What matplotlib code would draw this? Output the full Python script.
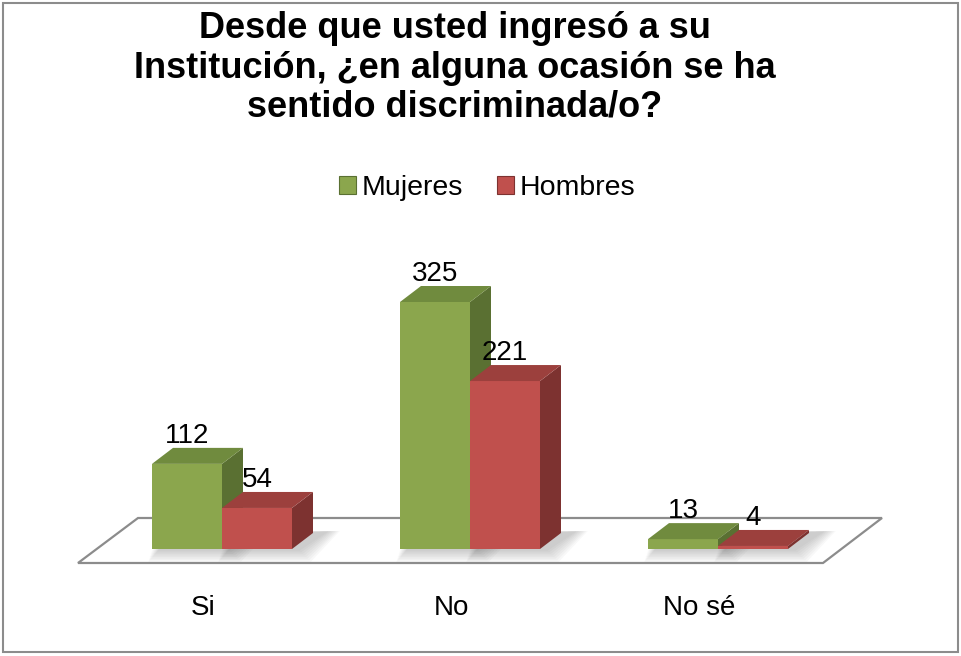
import matplotlib.pyplot as plt
from matplotlib.patches import Polygon, Rectangle, Patch
import numpy as np

plt.rcParams['font.family'] = ['Liberation Sans', 'DejaVu Sans']

categorias = ['Si', 'No', 'No sé']
mujeres = [112, 325, 13]
hombres = [54, 221, 4]
series = ['Mujeres', 'Hombres']
titulo = 'Desde que usted ingresó a su\nInstitución, ¿en alguna ocasión se ha\nsentido discriminada/o?'

# colores: frente, tapa, lateral
col_m = ('#8ba64d', '#708b3e', '#5a7032')
col_h = ('#c0504d', '#9c403d', '#7d3230')

W, H = 961, 656
fig = plt.figure(figsize=(W / 100, H / 100), dpi=100)
ax = fig.add_axes([0, 0, 1, 1])

# escala: 1 categoria = 248 px, 1 unidad = 0.76 px, base en y=549 px, x=222 px
sx, sy = 248.0, 0.76
ax.set_xlim(-222 / sx, (W - 222) / sx)
ax.set_ylim(-(H - 549) / sy, 549 / sy)
ax.axis('off')

bw = 70 / sx          # ancho de barra
ddx = 21 / sx         # profundidad en x
ddy = 16 / sy         # profundidad en y

# piso
piso = Polygon([(-144 / sx, -14 / sy), (601 / sx, -14 / sy),
                (660 / sx, 31 / sy), (-84 / sx, 31 / sy)],
               closed=True, facecolor='white', edgecolor='#8c8c8c', lw=1.6, zorder=1)
ax.add_patch(piso)


def sombra(x0, v):
    # sombra difusa sobre el piso
    for k in range(8):
        e = (k + 1) * 1.6
        pts = [(x0 - e * 0.3 / sx, -e / sy), (x0 + bw + (6 + e) / sx, -e / sy),
               (x0 + bw + ddx + (14 + e) / sx, ddy + 2 / sy), (x0 + ddx, ddy)]
        ax.add_patch(Polygon(pts, closed=True, facecolor='#606060',
                             edgecolor='none', alpha=0.045, zorder=2))


def barra3d(x0, v, cols):
    fr, tp, sd = cols
    ax.add_patch(Rectangle((x0, 0), bw, v, facecolor=fr, edgecolor='none', zorder=4))
    ax.add_patch(Polygon([(x0, v), (x0 + bw, v), (x0 + bw + ddx, v + ddy), (x0 + ddx, v + ddy)],
                         closed=True, facecolor=tp, edgecolor='none', zorder=4))
    ax.add_patch(Polygon([(x0 + bw, 0), (x0 + bw + ddx, ddy), (x0 + bw + ddx, v + ddy), (x0 + bw, v)],
                         closed=True, facecolor=sd, edgecolor='none', zorder=3))
    ax.text(x0 + bw / 2, v + ddy + 12 / sy, str(v), ha='center', va='center',
            fontsize=20, color='black', zorder=6)


for i, (m, h) in enumerate(zip(mujeres, hombres)):
    sombra(i - bw, m)
    sombra(i, h)
for i, (m, h) in enumerate(zip(mujeres, hombres)):
    barra3d(i, h, col_h)
    barra3d(i - bw, m, col_m)
    ax.text(i - 19 / sx, -(608 - 549) / sy, categorias[i], ha='center', va='center',
            fontsize=20, color='black')

fig.text(455 / W, 1 - 68 / H, titulo, ha='center', va='center', fontsize=26,
         fontweight='bold', linespacing=1.15)

handles = [Patch(facecolor=col_m[0], edgecolor=col_m[2], lw=0.8),
           Patch(facecolor=col_h[0], edgecolor=col_h[2], lw=0.8)]
fig.legend(handles, series, loc='center', bbox_to_anchor=(487 / W, 1 - 188 / H),
           ncol=2, frameon=False, fontsize=20.5, handlelength=0.6, handleheight=0.6,
           handletextpad=0.2, columnspacing=1.2)

# marco del grafico
fig.add_artist(Rectangle((3 / W, 4 / H), 955 / W, 649 / H, transform=fig.transFigure,
                         facecolor='none', edgecolor='#8c8c8c', lw=1.5))

fig.savefig('out.png', dpi=100)
